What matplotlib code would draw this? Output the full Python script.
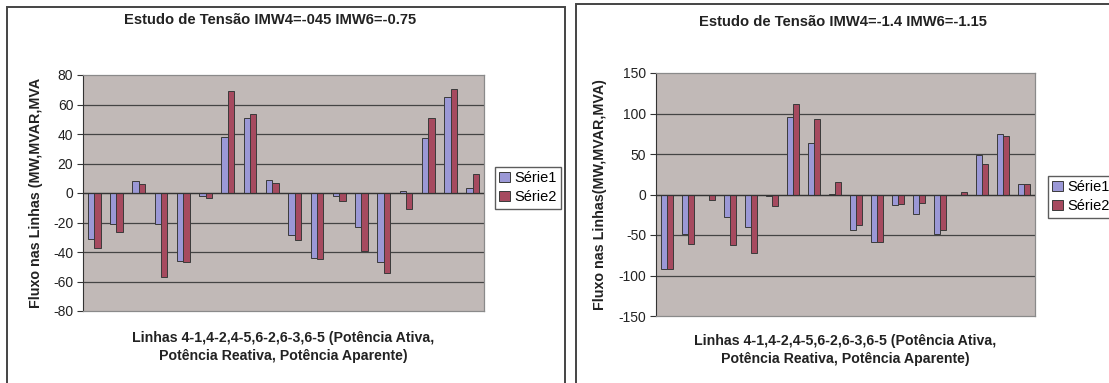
import numpy as np
import matplotlib
matplotlib.use("Agg")
import matplotlib.pyplot as plt
from matplotlib.patches import Patch, Rectangle

plt.rcParams["font.family"] = ["Liberation Sans", "DejaVu Sans"]
plt.rcParams["axes.unicode_minus"] = False

# values (18 categories each)
left_s1 = [-31, -21.2, 7.9, -21.2, -45.9, -2.3, 37.7, 50.8, 8.8, -28.2, -44.3, -2.0, -23.3, -47.0, 1.6, 37.0, 65.0, 3.2]
left_s2 = [-37.3, -26.4, 6.3, -57.0, -46.6, -3.4, 69.2, 53.8, 7.0, -31.9, -45.0, -5.4, -39.5, -54.2, -10.8, 50.8, 70.5, 12.9]
right_s1 = [-92, -48.3, 0, -27.3, -40.5, -1.7, 95.5, 63.2, 0.8, -43.4, -58.3, -13.2, -23.6, -48.3, 0, 48.8, 75.2, 12.4]
right_s2 = [-92, -60.7, -6.6, -62.4, -71.9, -14.5, 111.6, 92.9, 14.9, -37.6, -58.3, -12.0, -10.3, -43.4, 3.3, 37.2, 72.3, 12.4]
series_names = ["Série1", "Série2"]

left_title = "Estudo de Tensão IMW4=-045 IMW6=-0.75"
right_title = "Estudo de Tensão IMW4=-1.4 IMW6=-1.15"
left_ylabel = "Fluxo nas Linhas (MW,MVAR,MVA"
right_ylabel = "Fluxo nas Linhas(MW,MVAR,MVA)"
xlabel = "Linhas 4-1,4-2,4-5,6-2,6-3,6-5 (Potência Ativa,\nPotência Reativa, Potência Aparente)"
left_ticks = [-80, -60, -40, -20, 0, 20, 40, 60, 80]
right_ticks = [-150, -100, -50, 0, 50, 100, 150]

BLUE = "#9B98D6"; RED = "#A64A5F"; BG = "#C1B9B7"; EDGE = "#3a3a3a"

W, H = 1109, 383
fig = plt.figure(figsize=(W / 100, H / 100), dpi=100)


def px_axes(x0, y0, x1, y1):
    return fig.add_axes([x0 / W, 1 - y1 / H, (x1 - x0) / W, (y1 - y0) / H])


# outer chart frames
fig.patches.append(Rectangle((7 / W, -0.01), (565 - 7) / W, 1 - 7 / H + 0.01, transform=fig.transFigure,
                             fill=False, ec="#444444", lw=1.4))
fig.patches.append(Rectangle((576 / W, -0.01), 0.6, 1 - 4 / H + 0.01, transform=fig.transFigure,
                             fill=False, ec="#444444", lw=1.4))


def panel(box, s1, s2, ticks, ylab, title, title_xy, ylab_x, xlab_y, leg_xy):
    ax = px_axes(*box)
    ax.set_facecolor(BG)
    n = len(s1)
    x = np.arange(n) + 0.5
    bw = 1 / 3.5
    ax.bar(x - bw / 2, s1, bw, color=BLUE, edgecolor=EDGE, lw=0.7, zorder=3)
    ax.bar(x + bw / 2, s2, bw, color=RED, edgecolor=EDGE, lw=0.7, zorder=3)
    ax.set_xlim(0, n)
    ax.set_ylim(ticks[0], ticks[-1])
    ax.set_yticks(ticks)
    ax.set_xticks([])
    ax.tick_params(axis="y", direction="out", length=4, width=0.8, color="#333333", labelsize=10,
                   pad=3, labelcolor="#222222")
    for t in ticks[1:-1]:
        ax.axhline(t, color="#444444", lw=0.9, zorder=1)
    ax.axhline(0, color="#333333", lw=0.9, zorder=4)
    for side in ["top", "right", "bottom"]:
        ax.spines[side].set_color("#8a8a8a")
        ax.spines[side].set_linewidth(0.9)
    ax.spines["left"].set_color("#333333")
    cx = (box[0] + box[2]) / 2
    fig.text(title_xy[0] / W, 1 - title_xy[1] / H, title, ha="center", va="center", fontsize=10.6,
             fontweight="bold", color="#222222")
    fig.text(ylab_x / W, 1 - (box[1] + box[3]) / 2 / H, ylab, rotation=90, ha="center", va="center",
             fontsize=10.3, fontweight="bold", color="#222222")
    fig.text(cx / W, 1 - xlab_y / H, xlabel, ha="center", va="center", fontsize=10.2,
             fontweight="bold", color="#222222", linespacing=1.3)
    handles = [Patch(facecolor=BLUE, edgecolor=EDGE, lw=0.7), Patch(facecolor=RED, edgecolor=EDGE, lw=0.7)]
    fig.legend(handles, series_names, loc="upper left", bbox_to_anchor=(leg_xy[0] / W, 1 - leg_xy[1] / H),
               fontsize=10.5, frameon=True, fancybox=False, edgecolor="#333333", handlelength=0.7,
               handleheight=0.7, handletextpad=0.35, borderpad=0.3, labelspacing=0.35, borderaxespad=0)
    return ax


panel((83, 75, 484, 311), left_s1, left_s2, left_ticks, left_ylabel, left_title,
      (270, 20), 36, 347, (495, 167))
panel((656, 73, 1035, 316), right_s1, right_s2, right_ticks, right_ylabel, right_title,
      (843, 22), 600, 350, (1048, 176))

fig.savefig("out.png", dpi=100, facecolor="white")
